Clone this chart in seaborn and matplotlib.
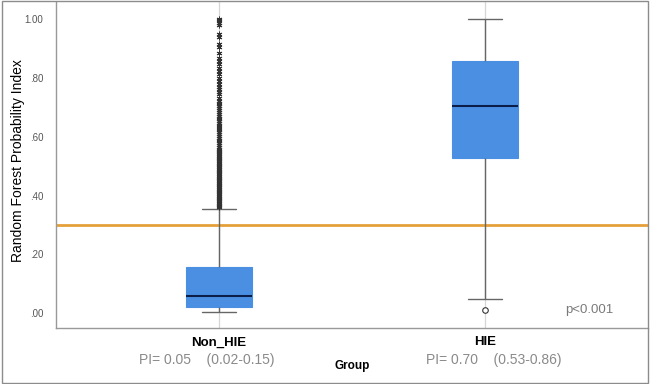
import numpy as np
import pandas as pd
import seaborn as sns
import matplotlib
matplotlib.use("Agg")
import matplotlib.pyplot as plt
from matplotlib.patches import Rectangle

# ---- data ----
groups = ["Non_HIE", "HIE"]
# five-number summaries (whisker low, Q1, median, Q3, whisker high)
nonhie_core = [0.003, 0.020, 0.058, 0.156, 0.356]
hie_core = [0.050, 0.529, 0.705, 0.858, 1.000]
# outliers
nonhie_out = [1.000, 0.997, 0.988, 0.980, 0.948, 0.939, 0.914, 0.905, 0.886,
              0.867, 0.858, 0.846, 0.835, 0.824, 0.813, 0.801, 0.790, 0.779,
              0.769, 0.761, 0.753, 0.744, 0.733, 0.722,
              0.715, 0.710, 0.703, 0.697, 0.690, 0.685, 0.678, 0.672, 0.665,
              0.660, 0.653, 0.647, 0.640, 0.635, 0.628, 0.622, 0.615, 0.610,
              0.603, 0.597, 0.590, 0.585, 0.578, 0.572, 0.565, 0.560,
              0.556, 0.552, 0.548, 0.544, 0.540, 0.536, 0.532, 0.528, 0.524,
              0.520, 0.516, 0.512, 0.508, 0.504, 0.500, 0.496, 0.492, 0.488,
              0.484, 0.480, 0.476, 0.472, 0.468, 0.464, 0.460, 0.456, 0.452,
              0.448, 0.444, 0.440, 0.436, 0.432, 0.428, 0.424, 0.420, 0.416,
              0.412, 0.408, 0.404, 0.400, 0.396, 0.392, 0.388, 0.384, 0.380,
              0.376, 0.372, 0.368, 0.364, 0.360]
hie_out = [0.010]
cutoff = 0.30
ytick_vals = [0.0, 0.2, 0.4, 0.6, 0.8, 1.0]
ytick_labels = [".00", ".20", ".40", ".60", ".80", "1.00"]
pi_labels = ["PI= 0.05    (0.02-0.15)", "PI= 0.70    (0.53-0.86)"]
p_text = "p<0.001"

core_df = pd.DataFrame({
    "Group": [groups[0]] * len(nonhie_core) + [groups[1]] * len(hie_core),
    "PI": nonhie_core + hie_core,
})

sns.set_style("white")
plt.rcParams["font.family"] = ["Liberation Sans", "DejaVu Sans"]

W, H = 656, 384
fig = plt.figure(figsize=(W / 100, H / 100), dpi=100)
ax = fig.add_axes([56 / W, (H - 328) / H, 592 / W, 326 / H])

box_color = "#4B8FE3"
sns.boxplot(data=core_df, x="Group", y="PI", order=groups, ax=ax,
            whis=np.inf, width=0.25, showfliers=False, color=box_color,
            saturation=1,
            boxprops=dict(facecolor=box_color, edgecolor=box_color, linewidth=0.8),
            medianprops=dict(color="#0B1E4A", linewidth=1.5),
            whiskerprops=dict(color="#666666", linewidth=1.0),
            capprops=dict(color="#666666", linewidth=1.0),
            zorder=3)

sns.stripplot(x=[groups[0]] * len(nonhie_out), y=nonhie_out, order=groups,
              ax=ax, jitter=False, marker=(6, 2, 0), size=3.6,
              color="#333333", edgecolor="#333333", linewidth=0.7, zorder=4)
sns.stripplot(x=[groups[1]] * len(hie_out), y=hie_out, order=groups,
              ax=ax, jitter=False, marker="o", size=4,
              color="white", edgecolor="#333333", linewidth=0.8, zorder=4)

ax.axhline(cutoff, color="#E5A03A", linewidth=2.0, zorder=2)

ax.set_xlim(-0.613, 1.613)
ax.set_ylim(-0.05, 1.058)
ax.set_yticks(ytick_vals)
ax.set_yticklabels(ytick_labels, fontsize=7, color="#555555")
ax.set_xticks([0, 1])
ax.set_xticklabels(groups, fontsize=9.5, fontweight="bold", color="black")
ax.tick_params(axis="both", length=0)
ax.tick_params(axis="x", pad=6)
ax.tick_params(axis="y", pad=9)
ax.xaxis.grid(True, color="#D6D6D6", linewidth=0.9)
ax.yaxis.grid(False)
ax.set_axisbelow(True)
for s in ["top", "right"]:
    ax.spines[s].set_visible(False)
for s in ["left", "bottom"]:
    ax.spines[s].set_color("#999999")
    ax.spines[s].set_linewidth(1.0)
ax.set_xlabel("")
ax.set_ylabel("")

fig.text(18 / W, 1 - 161 / H, "Random Forest Probability Index", rotation=90,
         ha="center", va="center", fontsize=10, color="black")
fig.text(352 / W, 1 - 366 / H, "Group", ha="center", va="center",
         fontsize=8.5, fontweight="bold", color="black")
fig.text(207 / W, 1 - 360 / H, pi_labels[0], ha="center", va="center",
         fontsize=10, color="#8A8A8A")
fig.text(494 / W, 1 - 360 / H, pi_labels[1], ha="center", va="center",
         fontsize=10, color="#8A8A8A")
fig.text(589 / W, 1 - 310 / H, p_text, ha="center", va="center",
         fontsize=9.5, color="#7A7A7A")

fig.patches.append(Rectangle((2 / W, 1.5 / H), 646 / W, 381.5 / H,
                             transform=fig.transFigure, fill=False,
                             edgecolor="#8C8C8C", linewidth=1.0))

fig.savefig("out.png", dpi=100)
